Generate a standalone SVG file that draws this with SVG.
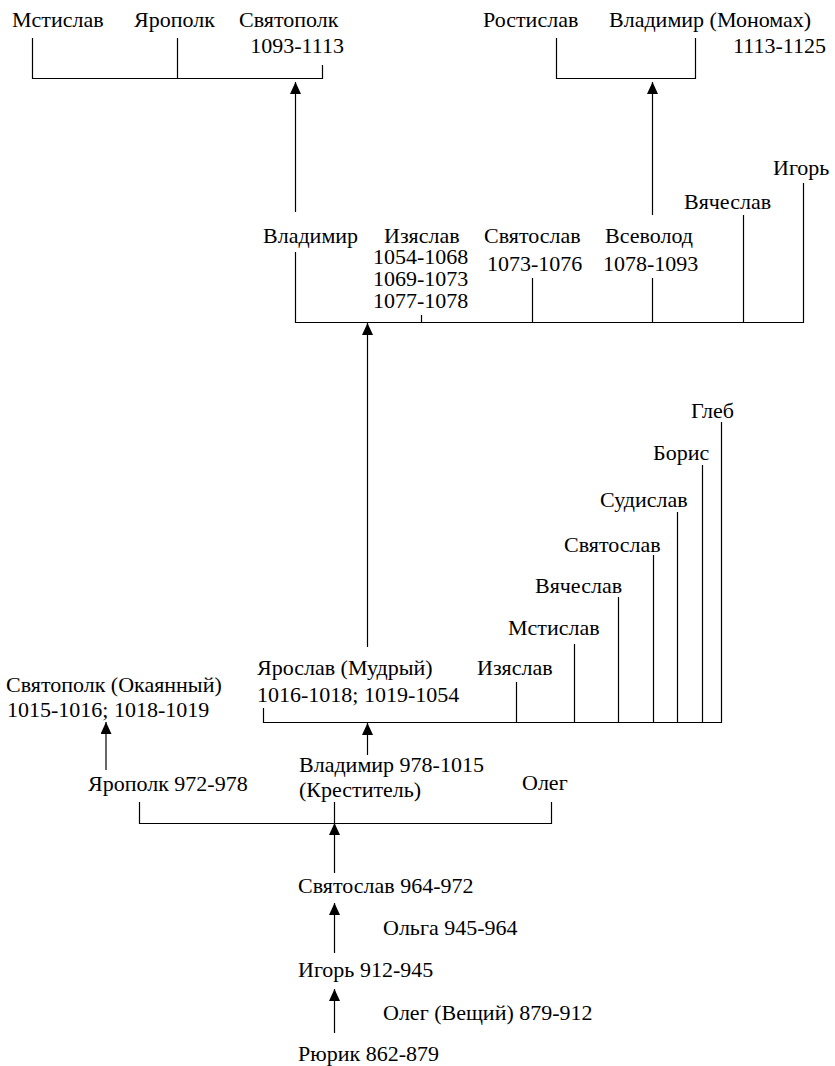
<svg xmlns="http://www.w3.org/2000/svg" width="835" height="1066" viewBox="0 0 835 1066">
<defs>
<marker id="ah" viewBox="0 0 12 11" refX="12" refY="5.5" markerWidth="12" markerHeight="11" markerUnits="userSpaceOnUse" orient="auto">
<path d="M0,0 L12,5.5 L0,11 z" fill="#000"/>
</marker>
</defs>
<rect width="835" height="1066" fill="#fff"/>
<g id="connectors" stroke="#000" stroke-width="1.2" fill="none">
<path d="M32.5,38 V78.5 H322.5 V65 M177.5,38 V78.5"/>
<path d="M556.5,38 V78.5 H695.5 V38"/>
<line x1="295.5" y1="212" x2="295.5" y2="82" marker-end="url(#ah)"/>
<line x1="652.5" y1="215" x2="652.5" y2="82" marker-end="url(#ah)"/>
<path d="M295.5,252 V322.5 H803.5 V183 M421.5,315 V322.5 M532.5,278 V322.5 M652.5,278 V322.5 M743.5,215 V322.5"/>
<line x1="367.5" y1="647" x2="367.5" y2="323" marker-end="url(#ah)"/>
<path d="M263.5,708 V722.5 H721.5 V422 M516.5,682 V722.5 M574.5,644 V722.5 M618.5,597 V722.5 M653.5,555 V722.5 M677.5,512 V722.5 M702.5,465 V722.5"/>
<line x1="367.5" y1="755" x2="367.5" y2="723" marker-end="url(#ah)"/>
<line x1="106" y1="770" x2="106" y2="722" marker-end="url(#ah)"/>
<path d="M139.5,802 V823.5 H551.5 V802 M334.5,802 V823.5"/>
<line x1="334.5" y1="873" x2="334.5" y2="823" marker-end="url(#ah)"/>
<line x1="334.5" y1="953" x2="334.5" y2="903" marker-end="url(#ah)"/>
<line x1="334.5" y1="1033" x2="334.5" y2="989" marker-end="url(#ah)"/>
</g>
<g font-size="22px">
<g id="mstislav-top"><text font-family="Liberation Serif" x="12" y="27">Мстислав</text></g>
<g id="yaropolk-top"><text font-family="Liberation Serif" x="134" y="27">Ярополк</text></g>
<g id="svyatopolk-top"><text font-family="Liberation Serif" x="239" y="27">Святополк</text><text font-family="Liberation Serif" text-anchor="end" x="344" y="53">1093-1113</text></g>
<g id="rostislav"><text font-family="Liberation Serif" x="483" y="27">Ростислав</text></g>
<g id="monomakh"><text font-family="Liberation Serif" x="609" y="27">Владимир (Мономах)</text><text font-family="Liberation Serif" text-anchor="end" x="826" y="53">1113-1125</text></g>
<g id="vladimir-mid"><text font-family="Liberation Serif" x="263" y="243">Владимир</text></g>
<g id="izyaslav-mid"><text font-family="Liberation Serif" x="384" y="243">Изяслав</text><text font-family="Liberation Serif" x="373" y="264">1054-1068</text><text font-family="Liberation Serif" x="373" y="286">1069-1073</text><text font-family="Liberation Serif" x="373" y="308">1077-1078</text></g>
<g id="svyatoslav-mid"><text font-family="Liberation Serif" x="484" y="243">Святослав</text><text font-family="Liberation Serif" x="487" y="271">1073-1076</text></g>
<g id="vsevolod"><text font-family="Liberation Serif" x="605" y="243">Всеволод</text><text font-family="Liberation Serif" x="603" y="271">1078-1093</text></g>
<g id="vyacheslav-mid"><text font-family="Liberation Serif" x="684" y="209">Вячеслав</text></g>
<g id="igor-mid"><text font-family="Liberation Serif" x="773" y="175">Игорь</text></g>
<g id="gleb"><text font-family="Liberation Serif" x="691" y="418">Глеб</text></g>
<g id="boris"><text font-family="Liberation Serif" x="653" y="460">Борис</text></g>
<g id="sudislav"><text font-family="Liberation Serif" x="600" y="507">Судислав</text></g>
<g id="svyatoslav-low"><text font-family="Liberation Serif" x="564" y="552">Святослав</text></g>
<g id="vyacheslav-low"><text font-family="Liberation Serif" x="535" y="593">Вячеслав</text></g>
<g id="mstislav-low"><text font-family="Liberation Serif" x="508" y="635">Мстислав</text></g>
<g id="izyaslav-low"><text font-family="Liberation Serif" x="477" y="675">Изяслав</text></g>
<g id="yaroslav"><text font-family="Liberation Serif" x="257" y="675">Ярослав (Мудрый)</text><text font-family="Liberation Serif" x="257" y="702">1016-1018; 1019-1054</text></g>
<g id="svyatopolk-okayanny"><text font-family="Liberation Serif" x="6" y="692">Святополк (Окаянный)</text><text font-family="Liberation Serif" x="7" y="717">1015-1016; 1018-1019</text></g>
<g id="yaropolk"><text font-family="Liberation Serif" x="88" y="791">Ярополк 972-978</text></g>
<g id="vladimir-krestitel"><text font-family="Liberation Serif" x="299" y="772">Владимир 978-1015</text><text font-family="Liberation Serif" x="299" y="797">(Креститель)</text></g>
<g id="oleg"><text font-family="Liberation Serif" x="522" y="790">Олег</text></g>
<g id="svyatoslav"><text font-family="Liberation Serif" x="298" y="893">Святослав 964-972</text></g>
<g id="olga"><text font-family="Liberation Serif" x="383" y="935">Ольга 945-964</text></g>
<g id="igor"><text font-family="Liberation Serif" x="298" y="977">Игорь 912-945</text></g>
<g id="oleg-veshchiy"><text font-family="Liberation Serif" x="383" y="1020">Олег (Вещий) 879-912</text></g>
<g id="ryurik"><text font-family="Liberation Serif" x="298" y="1061">Рюрик 862-879</text></g>
</g>
</svg>
